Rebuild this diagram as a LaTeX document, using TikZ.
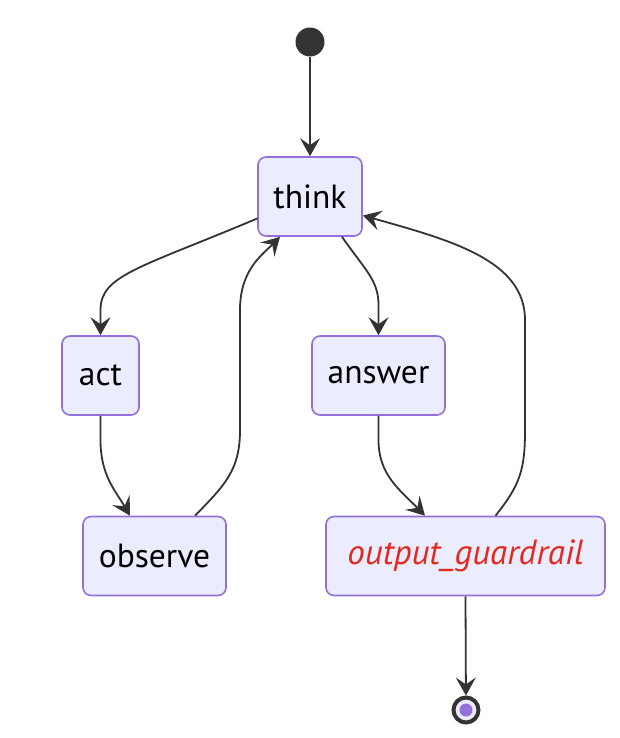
\documentclass[tikz,border=0pt]{standalone}
\usepackage{fontspec}
\setmainfont{PT Sans}
\usetikzlibrary{arrows.meta}
\definecolor{statefill}{HTML}{ECECFF}
\definecolor{stateline}{HTML}{9370DB}
\definecolor{edgeline}{HTML}{333333}
\definecolor{guardred}{HTML}{E5281E}
\tikzset{
  state/.style={draw=stateline, fill=statefill, line width=1.6pt, rounded corners=8pt,
    minimum height=79pt, inner sep=0pt, font=\fontsize{33.5}{38}\selectfont},
  startdot/.style={circle, fill=edgeline, minimum size=29pt, inner sep=0pt},
  enddot/.style={circle, draw=edgeline, line width=4pt, fill=statefill, minimum size=25pt, inner sep=0pt},
  trans/.style={draw=edgeline, line width=1.8pt, -{Stealth[length=18pt,width=20pt,inset=7pt]}}
}
\begin{document}
\begin{tikzpicture}[x=1pt, y=-1pt]
      \useasboundingbox (0,0) rectangle (620,738);
      \node[startdot] (start) at (310,42) {};
      \node[state, minimum width=104pt] (think) at (310,196.5) {think};
      \node[state, minimum width=77pt] (act) at (100.5,375.5) {act};
      \node[state, minimum width=133pt] (answer) at (378.5,375.5) {answer};
      \node[state, minimum width=143pt] (observe) at (154.5,556) {observe};
      \node[state, minimum width=279pt, text=guardred, font=\fontsize{35}{40}\selectfont\itshape] (guard) at (465.5,556) {output\_guardrail};
      \node[enddot] (end) at (466,710) {};
      \fill[stateline] (end) circle (6.5pt);
      \begin{scope}[trans]
        \draw (start) -- (think);
        \draw ([yshift=-22pt]think.west) .. controls (140,268) and (100.5,275) .. (100.5,310) -- (act.north);
        \draw ([xshift=32pt]think.south) .. controls (365,270) and (378.5,280) .. (378.5,305) -- (answer.north);
        \draw (act.south) -- (100.5,440) .. controls (100.5,475) and (115,490) .. ([xshift=-24.5pt]observe.north);
        \draw ([xshift=40.5pt]observe.north) .. controls (225,485) and (240,470) .. (240,430) -- (240,310) .. controls (240,270) and (262,255) .. ([xshift=-30pt]think.south);
        \draw (answer.south) -- (378.5,440) .. controls (378.5,475) and (400,490) .. ([xshift=-40.5pt]guard.north);
        \draw ([xshift=30pt]guard.north) .. controls (520,485) and (525,470) .. (525,430) -- (525,320) .. controls (525,260) and (450,240) .. ([yshift=-19pt]think.east);
        \draw (guard.south) -- (end);
      \end{scope}
    \end{tikzpicture}
\end{document}
